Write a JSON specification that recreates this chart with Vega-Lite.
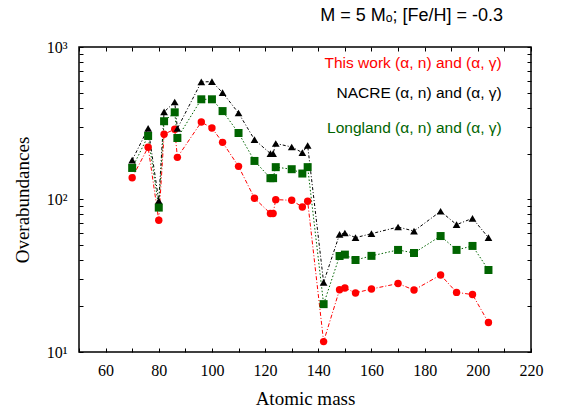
{
  "$schema": "https://vega.github.io/schema/vega-lite/v6.json",
  "width": 452,
  "height": 305,
  "autosize": {"type": "none"},
  "padding": {"left": 79, "top": 47, "right": 30, "bottom": 64},
  "background": "white",
  "title": {
    "text": "M = 5 Mₒ; [Fe/H] = -0.3",
    "anchor": "end",
    "frame": "group",
    "font": "Liberation Sans",
    "fontSize": 18,
    "fontWeight": "normal",
    "color": "black",
    "baseline": "alphabetic",
    "dx": -28,
    "offset": 0
  },
  "config": {
    "view": {"stroke": "black", "strokeWidth": 1.5},
    "axis": {
      "domain": false,
      "grid": false,
      "tickColor": "black",
      "labelColor": "black",
      "titleColor": "black",
      "labelFont": "Liberation Serif",
      "titleFont": "Liberation Serif",
      "labelFontSize": 16,
      "titleFontSize": 19,
      "titleFontWeight": "normal"
    }
  },
  "data": {
    "values": [
      {"mass": 70, "This work": 139, "NACRE": 181, "Longland": 161},
      {"mass": 76, "This work": 220, "NACRE": 293, "Longland": 261},
      {"mass": 80, "This work": 73.1, "NACRE": 98, "Longland": 88.5},
      {"mass": 82, "This work": 268, "NACRE": 375, "Longland": 326},
      {"mass": 86, "This work": 289, "NACRE": 436, "Longland": 373},
      {"mass": 87, "This work": 189, "NACRE": 292, "Longland": 253},
      {"mass": 96, "This work": 322, "NACRE": 590, "Longland": 454},
      {"mass": 100, "This work": 294, "NACRE": 593, "Longland": 454},
      {"mass": 104, "This work": 237, "NACRE": 502, "Longland": 380},
      {"mass": 110, "This work": 165, "NACRE": 369, "Longland": 273},
      {"mass": 116, "This work": 102, "NACRE": 247, "Longland": 179},
      {"mass": 122, "This work": 80.9, "NACRE": 200, "Longland": 138},
      {"mass": 123, "This work": 80.9, "NACRE": 200, "Longland": 138},
      {"mass": 124, "This work": 99.8, "NACRE": 233, "Longland": 163},
      {"mass": 130, "This work": 98.8, "NACRE": 221, "Longland": 158},
      {"mass": 134, "This work": 89.3, "NACRE": 203, "Longland": 148},
      {"mass": 136, "This work": 97.3, "NACRE": 226, "Longland": 163},
      {"mass": 142, "This work": 11.7, "NACRE": 28.6, "Longland": 20.6},
      {"mass": 148, "This work": 25.6, "NACRE": 59.1, "Longland": 42.6},
      {"mass": 150, "This work": 26.3, "NACRE": 60.3, "Longland": 43.5},
      {"mass": 154, "This work": 24.4, "NACRE": 56.2, "Longland": 40.1},
      {"mass": 160, "This work": 25.9, "NACRE": 59.7, "Longland": 42.7},
      {"mass": 170, "This work": 28.1, "NACRE": 66.0, "Longland": 46.7},
      {"mass": 176, "This work": 25.5, "NACRE": 62.1, "Longland": 44.6},
      {"mass": 186, "This work": 32.0, "NACRE": 83.7, "Longland": 57.6},
      {"mass": 192, "This work": 24.6, "NACRE": 68.4, "Longland": 46.7},
      {"mass": 198, "This work": 23.8, "NACRE": 75.3, "Longland": 49.6},
      {"mass": 204, "This work": 15.6, "NACRE": 56.2, "Longland": 34.5}
    ]
  },
  "transform": [
    {"fold": ["NACRE", "Longland", "This work"], "as": ["series", "value"]}
  ],
  "resolve": {"axis": {"x": "independent", "y": "independent"}},
  "layer": [
    {
      "mark": {"type": "line", "strokeWidth": 1, "clip": true},
      "encoding": {
        "x": {
          "field": "mass",
          "type": "quantitative",
          "scale": {"domain": [50, 220], "nice": false, "zero": false},
          "axis": {
            "orient": "bottom",
            "title": "Atomic mass",
            "values": [50, 60, 70, 80, 90, 100, 110, 120, 130, 140, 150, 160, 170, 180, 190, 200, 210, 220],
            "labelExpr": "datum.value % 20 == 0 ? datum.label : ''",
            "tickSize": -4,
            "labelPadding": 14,
            "titlePadding": 11,
            "labelFlush": false,
            "labelOverlap": false
          }
        },
        "y": {
          "field": "value",
          "type": "quantitative",
          "scale": {"type": "log", "domain": [10, 1000], "nice": false},
          "axis": {
            "orient": "left",
            "title": "Overabundances",
            "values": [10, 20, 30, 40, 50, 60, 70, 80, 90, 100, 200, 300, 400, 500, 600, 700, 800, 900, 1000],
            "labelExpr": "datum.value == 10 ? '10¹' : datum.value == 100 ? '10²' : datum.value == 1000 ? '10³' : ''",
            "tickSize": -4,
            "labelPadding": 16,
            "titlePadding": 14,
            "labelOverlap": false,
            "labelFlush": false
          }
        },
        "color": {
          "field": "series",
          "type": "nominal",
          "scale": {"domain": ["This work", "NACRE", "Longland"], "range": ["#ff0000", "#000000", "#006400"]},
          "legend": null
        },
        "strokeDash": {
          "field": "series",
          "type": "nominal",
          "scale": {"domain": ["This work", "NACRE", "Longland"], "range": [[4, 2, 1, 2], [3, 2, 1, 2], [1.5, 2]]},
          "legend": null
        }
      }
    },
    {
      "mark": {"type": "point", "filled": true, "opacity": 1, "strokeWidth": 0},
      "encoding": {
        "x": {"field": "mass", "type": "quantitative", "axis": null},
        "y": {"field": "value", "type": "quantitative", "axis": null},
        "color": {"field": "series", "type": "nominal", "legend": null},
        "shape": {
          "field": "series",
          "type": "nominal",
          "scale": {"domain": ["This work", "NACRE", "Longland"], "range": ["circle", "triangle-up", "square"]},
          "legend": null
        },
        "size": {
          "field": "series",
          "type": "nominal",
          "scale": {"domain": ["This work", "NACRE", "Longland"], "range": [55, 64, 70]},
          "legend": null
        }
      }
    },
    {
      "mark": {"type": "point", "opacity": 0},
      "encoding": {
        "x": {
          "field": "mass",
          "type": "quantitative",
          "axis": {
            "orient": "top",
            "title": null,
            "labels": false,
            "minExtent": 0,
            "maxExtent": 0,
            "values": [50, 60, 70, 80, 90, 100, 110, 120, 130, 140, 150, 160, 170, 180, 190, 200, 210, 220],
            "tickSize": -4
          }
        },
        "y": {
          "field": "value",
          "type": "quantitative",
          "axis": {
            "orient": "right",
            "title": null,
            "labels": false,
            "minExtent": 0,
            "maxExtent": 0,
            "values": [10, 20, 30, 40, 50, 60, 70, 80, 90, 100, 200, 300, 400, 500, 600, 700, 800, 900, 1000],
            "tickSize": -4
          }
        }
      }
    },
    {
      "data": {
        "values": [
          {"label": "This work (α, n) and (α, γ)", "series": "This work", "ypos": 782},
          {"label": "NACRE (α, n) and (α, γ)", "series": "NACRE", "ypos": 497},
          {"label": "Longland (α, n) and (α, γ)", "series": "Longland", "ypos": 293}
        ]
      },
      "mark": {"type": "text", "align": "right", "baseline": "middle", "font": "Liberation Sans", "fontSize": 15.5},
      "encoding": {
        "x": {"datum": 209, "type": "quantitative", "axis": null},
        "y": {"field": "ypos", "type": "quantitative", "axis": null},
        "text": {"field": "label"},
        "color": {"field": "series", "type": "nominal", "legend": null}
      }
    }
  ]
}
